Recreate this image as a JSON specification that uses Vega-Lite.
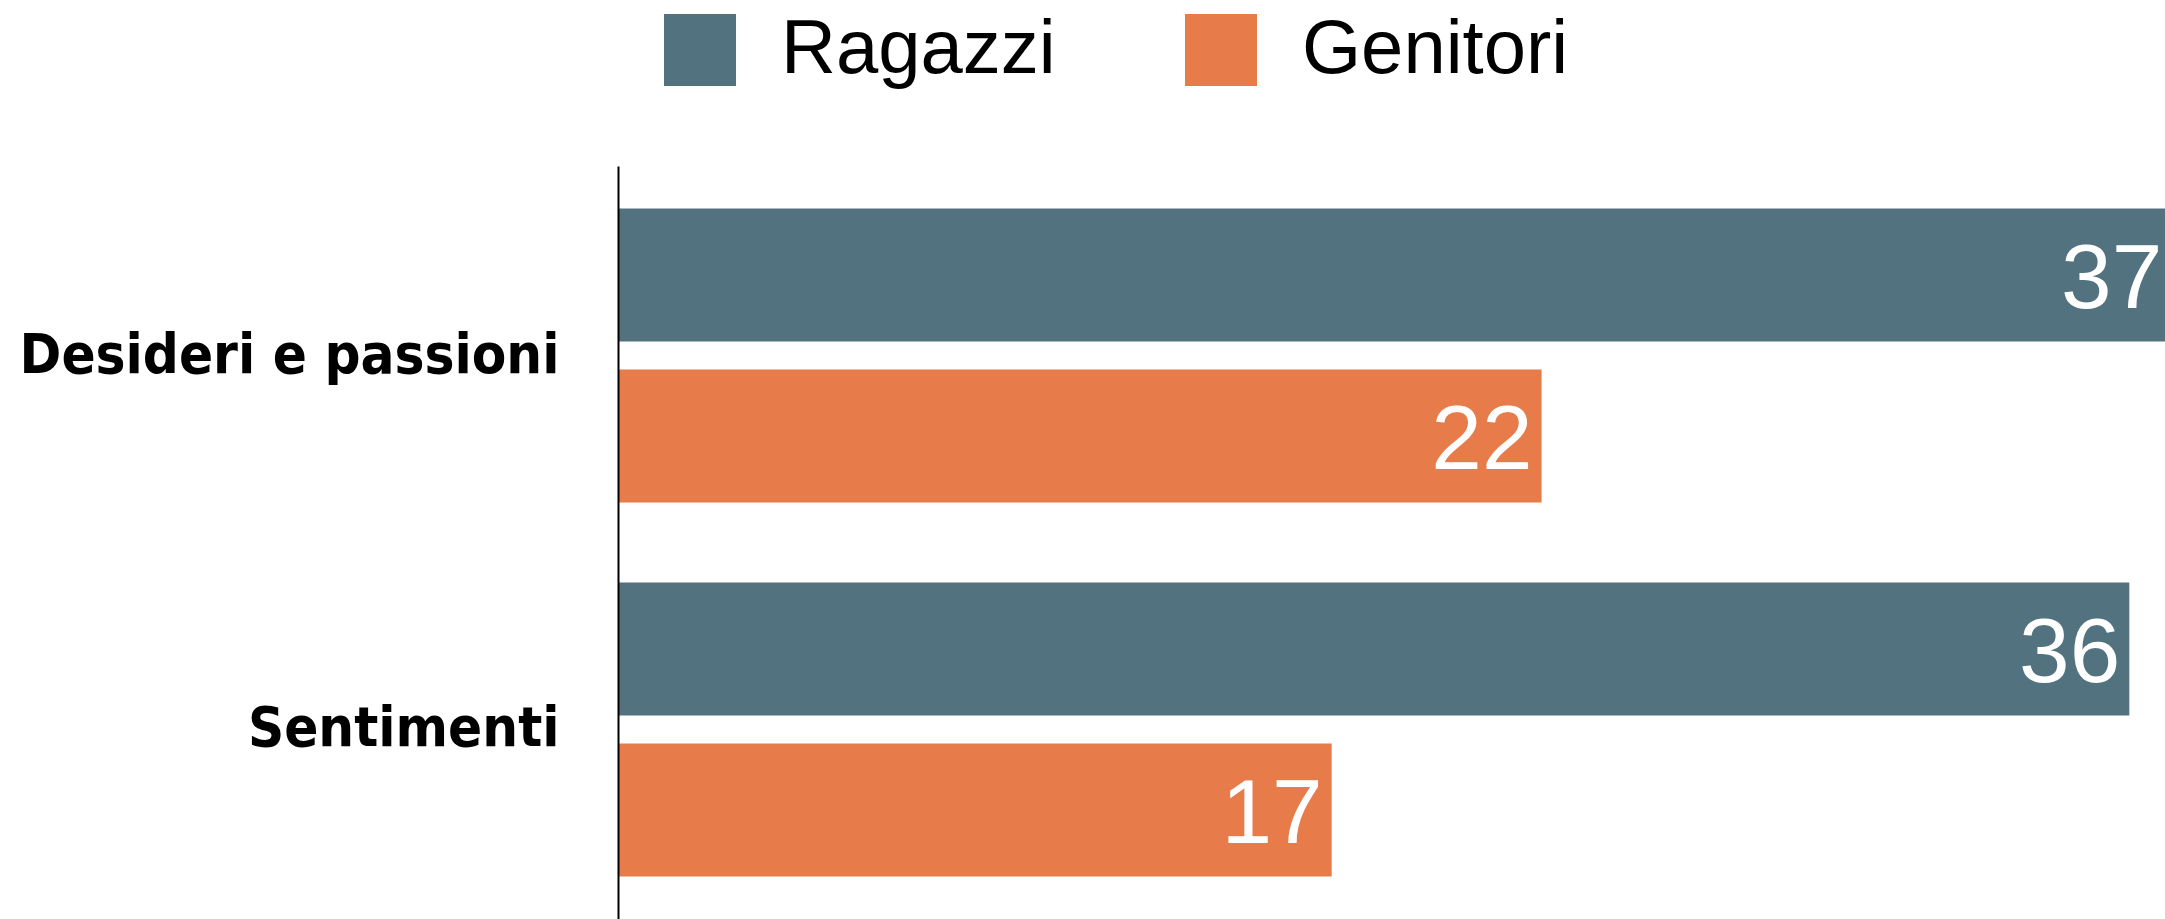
{
  "$schema": "https://vega.github.io/schema/vega-lite/v6.json",
  "autosize": "none",
  "padding": {"left": 618, "top": 166, "right": 0, "bottom": 0},
  "width": 1547,
  "height": 753,
  "background": "white",
  "config": {"view": {"stroke": null}},
  "data": {
    "values": [
      {"categoria": "Desideri e passioni", "gruppo": "Ragazzi", "valore": 37},
      {"categoria": "Desideri e passioni", "gruppo": "Genitori", "valore": 22},
      {"categoria": "Sentimenti", "gruppo": "Ragazzi", "valore": 36},
      {"categoria": "Sentimenti", "gruppo": "Genitori", "valore": 17}
    ]
  },
  "encoding": {
    "y": {
      "field": "categoria",
      "type": "nominal",
      "sort": ["Desideri e passioni", "Sentimenti"],
      "scale": {"paddingInner": 0.214, "paddingOuter": 0.114},
      "axis": {
        "title": null,
        "domain": true,
        "domainColor": "#000000",
        "domainWidth": 2,
        "zindex": 1,
        "ticks": false,
        "grid": false,
        "labelFont": "DejaVu Sans Condensed",
        "labelFontWeight": "bold",
        "labelFontSize": 56,
        "labelColor": "#000000",
        "labelPadding": 59,
        "labelLimit": 1000
      }
    },
    "yOffset": {
      "field": "gruppo",
      "type": "nominal",
      "sort": ["Ragazzi", "Genitori"],
      "scale": {"paddingInner": 0.174, "paddingOuter": 0}
    },
    "x": {
      "field": "valore",
      "type": "quantitative",
      "scale": {"domain": [0, 36.85], "nice": false, "zero": true},
      "axis": null
    }
  },
  "layer": [
    {
      "mark": {"type": "bar", "clip": true},
      "encoding": {
        "color": {
          "field": "gruppo",
          "type": "nominal",
          "sort": ["Ragazzi", "Genitori"],
          "scale": {"domain": ["Ragazzi", "Genitori"], "range": ["#53727F", "#E87B4A"]},
          "legend": {
            "orient": "none",
            "legendX": 44,
            "legendY": -154,
            "direction": "horizontal",
            "title": null,
            "padding": 0,
            "symbolType": "square",
            "symbolSize": 5184,
            "symbolStrokeWidth": 0,
            "symbolOpacity": 1,
            "labelFont": "Liberation Sans",
            "labelFontSize": 76,
            "labelColor": "#000000",
            "labelOffset": 43,
            "columnPadding": 127,
            "labelLimit": 1000
          }
        }
      }
    },
    {
      "mark": {
        "type": "text",
        "align": "right",
        "baseline": "middle",
        "dx": -9,
        "dy": 6,
        "color": "#FFFFFF",
        "font": "Liberation Sans",
        "fontSize": 91
      },
      "encoding": {
        "text": {"field": "valore", "type": "quantitative"}
      }
    }
  ]
}
